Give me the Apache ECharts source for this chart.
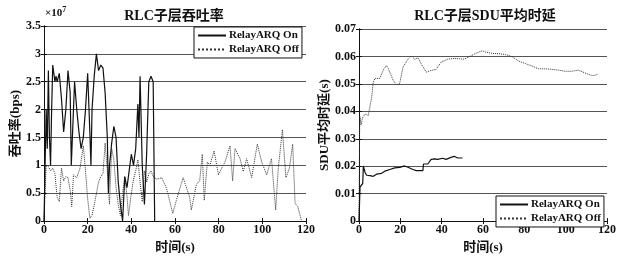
<!DOCTYPE html>
<html>
<head>
<meta charset="utf-8">
<script src="https://cdn.jsdelivr.net/npm/echarts@6/dist/echarts.min.js"></script>
<style>
  html, body { margin: 0; padding: 0; background: #fff; }
  #chart { width: 619px; height: 259px; }
</style>
</head>
<body>
<div id="chart"></div>
<script>
// 吞吐率 (单位 1e7 bps)
const thrOnT = [0, 0.5, 1, 1.5, 2, 2.5, 3, 3.5, 4, 5, 5.5, 6, 7, 8, 9, 10, 11, 12, 12.5, 13, 14, 15, 16, 17, 18, 19, 20, 21, 21.5, 22, 23, 24, 25, 26, 27, 28, 29, 29.5, 30, 31, 32, 33, 34, 35, 36, 37, 38, 39, 40, 41, 42, 43, 43.5, 44, 45, 46, 47, 48, 49, 50, 50.7];
const thrOnV = [0, 1.0, 2.0, 1.3, 2.7, 1.5, 1.0, 2.0, 2.8, 2.5, 2.6, 2.5, 2.65, 2.2, 1.6, 2.0, 2.7, 2.3, 1.0, 1.0, 2.5, 2.0, 1.6, 1.3, 1.5, 2.0, 2.65, 1.6, 1.0, 2.0, 2.6, 3.0, 2.7, 2.8, 2.75, 2.3, 1.5, 0.5, 1.0, 1.4, 1.7, 1.5, 0.7, 0.3, 0.0, 0.8, 0.6, 0.9, 1.2, 1.0, 1.3, 2.1, 1.5, 2.6, 1.0, 0.3, 1.2, 2.5, 2.6, 2.5, 0];
const thrOffT = [0, 1, 2, 3, 4, 5, 6, 7, 8, 9, 10, 11, 12, 12.7, 13.5, 15, 16.5, 18, 19, 20, 21, 22, 23.4, 25, 26, 27, 28, 29, 30, 31, 32, 33, 34, 35, 36, 37, 38, 38.7, 40, 41, 42, 43, 44, 45, 46, 47, 48, 49, 50, 51.7, 53.9, 56, 59, 60.6, 63.7, 66.7, 67.5, 69.8, 71.3, 72.5, 73.4, 74.8, 76, 77.9, 79.9, 81.4, 82.9, 85.2, 86.4, 87.5, 89.8, 91.3, 92.8, 95.1, 97.7, 99.7, 102, 104.2, 106.1, 107.3, 109.2, 110.8, 112.4, 113.9, 115, 116.2, 118];
const thrOffV = [0, 1.0, 0.98, 0.9, 0.95, 0.85, 0.43, 0.35, 0.95, 0.72, 0.8, 0.78, 0.55, 0.26, 0.83, 0.78, 0.95, 1.35, 0.9, 0.4, 0.05, 0.1, 0.37, 0.7, 0.8, 0.85, 1.4, 0.9, 0.3, 1.3, 1.1, 0.6, 0.3, 0.1, 0.5, 0.8, 0.45, 0.1, 0.5, 0.75, 0.9, 1.1, 0.7, 0.35, 0.9, 0.7, 0.85, 0.9, 0.8, 0.75, 0.78, 0.6, 0.14, 0.37, 0.78, 0.43, 0.2, 0.66, 0.72, 1.2, 0.37, 1.06, 1.0, 1.26, 0.83, 0.95, 1.06, 1.35, 0.72, 1.3, 1.12, 0.89, 1.12, 0.78, 1.38, 1.06, 0.83, 1.12, 0.2, 0.95, 1.64, 0.78, 0.95, 1.38, 0.32, 0.26, 0];

// SDU 平均时延 (s)
const delOnT = [0, 0.5, 1.3, 1.8, 2.1, 2.9, 3.7, 5.3, 6.9, 8.5, 9.3, 10.9, 12.5, 14.9, 17.3, 19.7, 22.1, 23.7, 26.1, 27.7, 30.9, 31.2, 33.3, 34.9, 36.5, 38.1, 40.5, 42.1, 44.5, 46.1, 47.7, 50.1];
const delOnV = [0, 0.0125, 0.013, 0.0137, 0.0201, 0.0178, 0.0167, 0.0166, 0.0163, 0.0171, 0.0177, 0.0174, 0.0182, 0.0188, 0.0194, 0.0196, 0.0201, 0.0196, 0.0188, 0.0184, 0.0184, 0.0208, 0.0208, 0.0225, 0.0227, 0.0225, 0.0229, 0.0225, 0.0232, 0.0236, 0.023, 0.023];
const delOffT = [0, 0.3, 0.5, 1, 1.5, 2, 3, 4.5, 6.1, 6.9, 7.7, 8.5, 10.1, 11.7, 13.3, 14.1, 14.9, 16.5, 18.1, 19.7, 21.3, 23.7, 25.3, 26.9, 28.5, 30.1, 32.5, 34.9, 35.7, 37.3, 39.7, 42.9, 46.1, 50.9, 54.1, 57.3, 59.7, 61.3, 64.5, 67.7, 70.9, 74.1, 77.3, 80.5, 83.7, 86.9, 90.1, 93.3, 96.5, 99.7, 102.9, 106.1, 109.3, 112.5, 114.1, 115.7];
const delOffV = [0, 0.033, 0.038, 0.035, 0.037, 0.038, 0.039, 0.0385, 0.045, 0.0505, 0.052, 0.0515, 0.052, 0.055, 0.0567, 0.0557, 0.055, 0.0514, 0.0496, 0.0502, 0.0561, 0.059, 0.0602, 0.059, 0.0595, 0.0573, 0.0543, 0.0549, 0.0555, 0.0553, 0.0579, 0.059, 0.0593, 0.059, 0.0602, 0.0614, 0.062, 0.0616, 0.0611, 0.061, 0.0607, 0.0599, 0.0583, 0.0574, 0.0565, 0.0555, 0.0555, 0.0553, 0.055, 0.0546, 0.0546, 0.055, 0.054, 0.0531, 0.0531, 0.0536];

const names = ["RelayARQ On", "RelayARQ Off"];

const zip = (t, v) => t.map((x, i) => [x, v[i]]);
const serif = "'Liberation Serif', 'Noto Sans CJK SC', serif";

const chart = echarts.init(document.getElementById("chart"));

function xAx(gi) {
  return [{
    gridIndex: gi, type: "value", min: 0, max: 120, interval: 20,
    name: "时间(s)", nameLocation: "middle", nameGap: 17,
    nameTextStyle: { fontFamily: serif, fontSize: 13, fontWeight: "bold", color: "#111" },
    axisLine: { lineStyle: { color: "#111" } },
    axisTick: { inside: true, length: 3, lineStyle: { color: "#111" } },
    axisLabel: { margin: 3, fontFamily: serif, fontSize: 12, fontWeight: "bold", color: "#111" },
    splitLine: { show: false },
  }, {
    gridIndex: gi, type: "value", min: 0, max: 120, interval: 20, position: "top",
    axisLine: { lineStyle: { color: "#111" } },
    axisTick: { inside: true, length: 3, lineStyle: { color: "#111" } },
    axisLabel: { show: false }, splitLine: { show: false },
  }];
}

function yAx(gi, max, interval, name, gap, fmt) {
  return [{
    gridIndex: gi, type: "value", min: 0, max: max, interval: interval,
    name: name, nameLocation: "middle", nameGap: gap,
    nameTextStyle: { fontFamily: serif, fontSize: 13, fontWeight: "bold", color: "#111" },
    axisLine: { show: true, lineStyle: { color: "#111" } },
    axisTick: { show: true, inside: true, length: 3, lineStyle: { color: "#111" } },
    axisLabel: { margin: 3, fontFamily: serif, fontSize: 12, fontWeight: "bold", color: "#111", formatter: fmt },
    splitLine: { show: true, lineStyle: { color: "#555", width: 1 } },
  }, {
    gridIndex: gi, type: "value", min: 0, max: max, interval: interval, position: "right",
    axisLine: { show: true, lineStyle: { color: "#111" } },
    axisTick: { show: true, inside: true, length: 3, lineStyle: { color: "#111" } },
    axisLabel: { show: false }, splitLine: { show: false },
  }];
}

function legend(left, top) {
  return {
    data: names, orient: "vertical", left: left, top: top,
    itemWidth: 28, itemHeight: 10, itemGap: 3, itemStyle: { opacity: 0 },
    padding: [3, 3, 3, 3],
    borderColor: "#111", borderWidth: 1, backgroundColor: "#fff",
    textStyle: { fontFamily: serif, fontSize: 11, fontWeight: "bold", color: "#111", padding: [0, 0, 0, -2] },
  };
}

function line(name, xi, yi, data, dotted) {
  return {
    name: name, type: "line", xAxisIndex: xi, yAxisIndex: yi, data: data,
    symbol: "none", animation: false,
    lineStyle: dotted ? { color: "#333", width: 1, type: "dotted" } : { color: "#111", width: 1.2 },
    itemStyle: { color: dotted ? "#333" : "#111" },
  };
}

const option = {
  backgroundColor: "#fff",
  animation: false,
  title: [
    { text: "RLC子层吞吐率", left: 169, top: 4, textAlign: "center",
      textStyle: { fontFamily: serif, fontSize: 14, fontWeight: "bold", color: "#111" } },
    { text: "RLC子层SDU平均时延", left: 480, top: 4, textAlign: "center",
      textStyle: { fontFamily: serif, fontSize: 14, fontWeight: "bold", color: "#111" } },
  ],
  graphic: [{
    type: "text", left: 45, top: 6,
    style: {
      text: "{a|×10}{b|7}",
      rich: {
        a: { fontFamily: serif, fontSize: 11, fontWeight: "bold", fill: "#111" },
        b: { fontFamily: serif, fontSize: 8, fontWeight: "bold", fill: "#111", verticalAlign: "top", padding: [0, 0, 6, 0] },
      },
    },
  }],
  legend: [legend(194, 27), legend(496, 196)],
  grid: [
    { left: 44, top: 26, width: 262, height: 202 },
    { left: 359, top: 29, width: 250, height: 198 },
  ],
  xAxis: [...xAx(0), ...xAx(1)],
  yAxis: [
    ...yAx(0, 3.5, 0.5, "吞吐率(bps)", 20, (v) => String(+v.toFixed(1))),
    ...yAx(1, 0.07, 0.01, "SDU平均时延(s)", 23, (v) => String(+v.toFixed(2))),
  ],
  series: [
    line(names[1], 0, 0, zip(thrOffT, thrOffV), true),
    line(names[0], 0, 0, zip(thrOnT, thrOnV), false),
    line(names[1], 2, 2, zip(delOffT, delOffV), true),
    line(names[0], 2, 2, zip(delOnT, delOnV), false),
  ],
};

chart.setOption(option);
</script>
</body>
</html>
